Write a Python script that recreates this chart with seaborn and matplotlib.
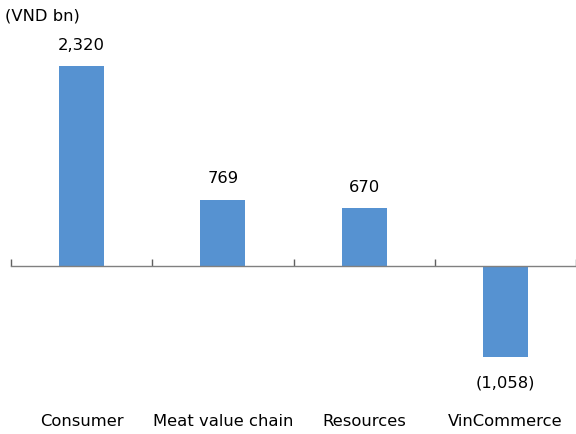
import matplotlib
matplotlib.use("Agg")
import matplotlib.pyplot as plt
import seaborn as sns
import pandas as pd

categories = ["Consumer", "Meat value chain", "Resources", "VinCommerce"]
values = [2320, 769, 670, -1058]
value_labels = ["2,320", "769", "670", "(1,058)"]
unit_label = "(VND bn)"

sns.set_theme(style="white")
plt.rcParams['font.family'] = ['DejaVu Sans']
plt.rcParams['text.color'] = 'black'

df = pd.DataFrame({"cat": categories, "val": values})

fig = plt.figure(figsize=(5.76, 4.35), dpi=100)
W, H = 576, 435
top_px, bot_px = 30, 400
ax = fig.add_axes([11 / W, 1 - bot_px / H, 565 / W, (bot_px - top_px) / H])

sns.barplot(data=df, x="cat", y="val", color="#5692D1", width=0.32,
            saturation=1, ax=ax, edgecolor="none")

s = 200 / 2320.0
ax.set_ylim((267 - bot_px) / s, (267 - top_px) / s)
ax.set_xlim(-0.5, 3.5)

for sp in ["top", "right", "left"]:
    ax.spines[sp].set_visible(False)
ax.spines["bottom"].set_position(("data", 0))
ax.spines["bottom"].set_color("#808080")
ax.spines["bottom"].set_linewidth(1.0)
ax.set_yticks([])
ax.set_xticks([])
ax.set_xticks([-0.5, 0.5, 1.5, 2.5, 3.5], minor=True)
ax.tick_params(axis="x", which="minor", direction="in", length=5, width=1,
               color="#606060", bottom=True)
ax.set_xlabel("")
ax.set_ylabel("")

fs = 11.8
for i, (v, lab) in enumerate(zip(values, value_labels)):
    if v >= 0:
        ax.annotate(lab, (i, v), xytext=(0, 15.8), textcoords="offset points",
                    ha="center", va="center", fontsize=fs, color="black")
    else:
        ax.annotate(lab, (i, v), xytext=(0, -18), textcoords="offset points",
                    ha="center", va="center", fontsize=fs, color="black")

trans = matplotlib.transforms.blended_transform_factory(ax.transData, fig.transFigure)
for i, c in enumerate(categories):
    ax.text(i, 1 - 422 / H, c, ha="center", va="center", fontsize=fs,
            color="black", transform=trans)

fig.text(5 / W, 1 - 16 / H, unit_label, ha="left", va="center", fontsize=fs,
         color="black")

fig.savefig("out.png", dpi=100)
